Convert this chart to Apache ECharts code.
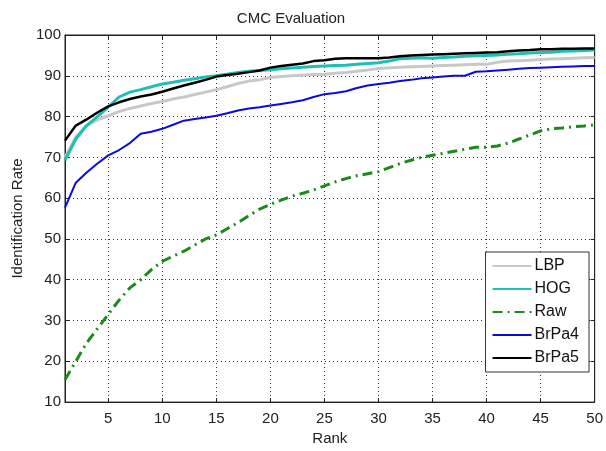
<!DOCTYPE html>
<html>
<head>
<meta charset="utf-8">
<script src="https://cdn.jsdelivr.net/npm/echarts@6/dist/echarts.min.js"></script>
<style>
  html, body { margin: 0; padding: 0; background: #fff; }
  #cmc { width: 606px; height: 451px; }
</style>
</head>
<body>
<div id="cmc"></div>
<script>
// rank 1..50
var ranks = [];
for (var r = 1; r <= 50; r++) ranks.push(r);

var lbp = [70, 75, 77.8, 79.2, 80.2, 81.2, 82, 82.6, 83.2, 83.7,
  84.3, 84.8, 85.4, 86, 86.6, 87.3, 88.1, 88.7, 89, 89.6,
  89.8, 90, 90.2, 90.3, 90.4, 90.6, 90.8, 91.1, 91.4, 91.8,
  92, 92.1, 92.2, 92.3, 92.4, 92.5, 92.6, 92.7, 92.8, 92.8,
  93.3, 93.6, 93.7, 93.8, 94, 94.1, 94.2, 94.3, 94.4, 94.5];

var hog = [69.3, 74.5, 77.8, 80, 82.3, 84.8, 86, 86.6, 87.3, 88,
  88.4, 88.9, 89.3, 89.7, 90, 90.4, 90.8, 91.1, 91.3, 91.5,
  91.7, 91.9, 92.1, 92.3, 92.4, 92.5, 92.6, 92.8, 93, 93.2,
  93.6, 94.2, 94.3, 94.4, 94.3, 94.5, 94.6, 94.8, 94.9, 95,
  95.1, 95.3, 95.4, 95.6, 95.7, 95.8, 96, 96.1, 96.2, 96.3];

var raw = [15.5, 20, 24.5, 28, 31.5, 35, 38, 40, 42.5, 44.5,
  45.8, 47, 48.5, 50, 51, 52.5, 54, 55.7, 57.3, 58.5,
  59.5, 60.5, 61.2, 62, 63, 64, 64.8, 65.5, 66, 66.5,
  67.5, 68.5, 69.3, 70, 70.5, 71, 71.5, 72, 72.5, 72.5,
  72.8, 73.5, 74.5, 75.5, 76.5, 77, 77.2, 77.5, 77.7, 78];

var brpa4 = [57.7, 63.8, 66.3, 68.5, 70.5, 71.8, 73.5, 75.8, 76.3, 77,
  78, 79, 79.4, 79.8, 80.2, 80.8, 81.5, 82, 82.3, 82.7,
  83.1, 83.5, 84, 84.8, 85.5, 85.8, 86.2, 87, 87.6, 88,
  88.3, 88.7, 89, 89.4, 89.6, 89.8, 90, 90, 91, 91.1,
  91.3, 91.5, 91.7, 91.9, 92, 92.1, 92.2, 92.3, 92.4, 92.4];

var brpa5 = [74.1, 77.8, 79.3, 81, 82.5, 83.5, 84.3, 84.9, 85.4, 86.1,
  86.9, 87.6, 88.3, 89, 89.8, 90.2, 90.5, 90.9, 91.3, 92,
  92.4, 92.7, 93, 93.6, 93.8, 94.2, 94.3, 94.3, 94.3, 94.3,
  94.5, 94.8, 95, 95.1, 95.2, 95.3, 95.4, 95.5, 95.6, 95.7,
  95.8, 96, 96.2, 96.3, 96.5, 96.5, 96.6, 96.6, 96.7, 96.7];

var xTicks = [5, 10, 15, 20, 25, 30, 35, 40, 45, 50];

function pairs(vals) {
  return vals.map(function (v, i) { return [ranks[i], v]; });
}

var font = 'Liberation Sans, Arial, sans-serif';
var chart = echarts.init(document.getElementById('cmc'));

var option = {
  animation: false,
  backgroundColor: '#fff',
  title: {
    text: 'CMC Evaluation',
    left: 286, top: 6, textAlign: 'center',
    textStyle: { fontFamily: font, fontSize: 15, fontWeight: 'normal', color: '#222' }
  },
  grid: {
    left: 65, right: 8, top: 35, bottom: 44,
    show: true, borderColor: '#222', borderWidth: 1
  },
  legend: {
    orient: 'vertical',
    right: 17, top: 252,
    padding: [6, 10, 6, 6],
    itemGap: 7,
    itemWidth: 39, itemHeight: 17,
    backgroundColor: '#fff',
    borderColor: '#333', borderWidth: 1,
    itemStyle: { opacity: 0 },
    textStyle: { fontFamily: font, fontSize: 16, color: '#111', padding: [0, 0, 0, -2] },
    data: ['LBP', 'HOG', 'Raw', 'BrPa4', 'BrPa5']
  },
  xAxis: [{
    type: 'value', min: 1, max: 50,
    name: 'Rank', nameLocation: 'middle', nameGap: 27,
    nameTextStyle: { fontFamily: font, fontSize: 15, color: '#222' },
    axisLine: { lineStyle: { color: '#222' } },
    axisTick: { inside: true, length: 4, customValues: xTicks, lineStyle: { color: '#222' } },
    axisLabel: { customValues: xTicks, fontFamily: font, fontSize: 15, color: '#222', margin: 9 },
    splitLine: { show: true, lineStyle: { color: '#333', type: [1, 3] } }
  }, {
    type: 'value', min: 1, max: 50, position: 'top',
    axisLine: { lineStyle: { color: '#222' } },
    axisTick: { inside: true, length: 4, customValues: xTicks, lineStyle: { color: '#222' } },
    axisLabel: { show: false },
    splitLine: { show: false }
  }],
  yAxis: [{
    type: 'value', min: 10, max: 100, interval: 10,
    name: 'Identification Rate', nameLocation: 'middle', nameGap: 38,
    nameTextStyle: { fontFamily: font, fontSize: 15, color: '#222' },
    axisLine: { show: true, lineStyle: { color: '#222' } },
    axisTick: { show: true, inside: true, length: 4, lineStyle: { color: '#222' } },
    axisLabel: { fontFamily: font, fontSize: 15, color: '#222', margin: 4 },
    splitLine: { show: true, lineStyle: { color: '#333', type: [1, 3] } }
  }, {
    type: 'value', min: 10, max: 100, interval: 10, position: 'right',
    axisLine: { show: true, lineStyle: { color: '#222' } },
    axisTick: { show: true, inside: true, length: 4, lineStyle: { color: '#222' } },
    axisLabel: { show: false },
    splitLine: { show: false }
  }],
  series: [
    { name: 'LBP', type: 'line', symbol: 'none', data: pairs(lbp),
      lineStyle: { color: '#c8c8c8', width: 3 }, itemStyle: { color: '#c8c8c8' } },
    { name: 'HOG', type: 'line', symbol: 'none', data: pairs(hog),
      lineStyle: { color: '#1fbfb5', width: 3 }, itemStyle: { color: '#1fbfb5' } },
    { name: 'Raw', type: 'line', symbol: 'none', data: pairs(raw),
      lineStyle: { color: '#1a8a1a', width: 3, type: [10, 5, 2, 5] }, itemStyle: { color: '#1a8a1a' } },
    { name: 'BrPa4', type: 'line', symbol: 'none', data: pairs(brpa4),
      lineStyle: { color: '#0a0ae0', width: 2 }, itemStyle: { color: '#0a0ae0' } },
    { name: 'BrPa5', type: 'line', symbol: 'none', data: pairs(brpa5),
      lineStyle: { color: '#000', width: 2.5 }, itemStyle: { color: '#000' } }
  ]
};

chart.setOption(option);
</script>
</body>
</html>
